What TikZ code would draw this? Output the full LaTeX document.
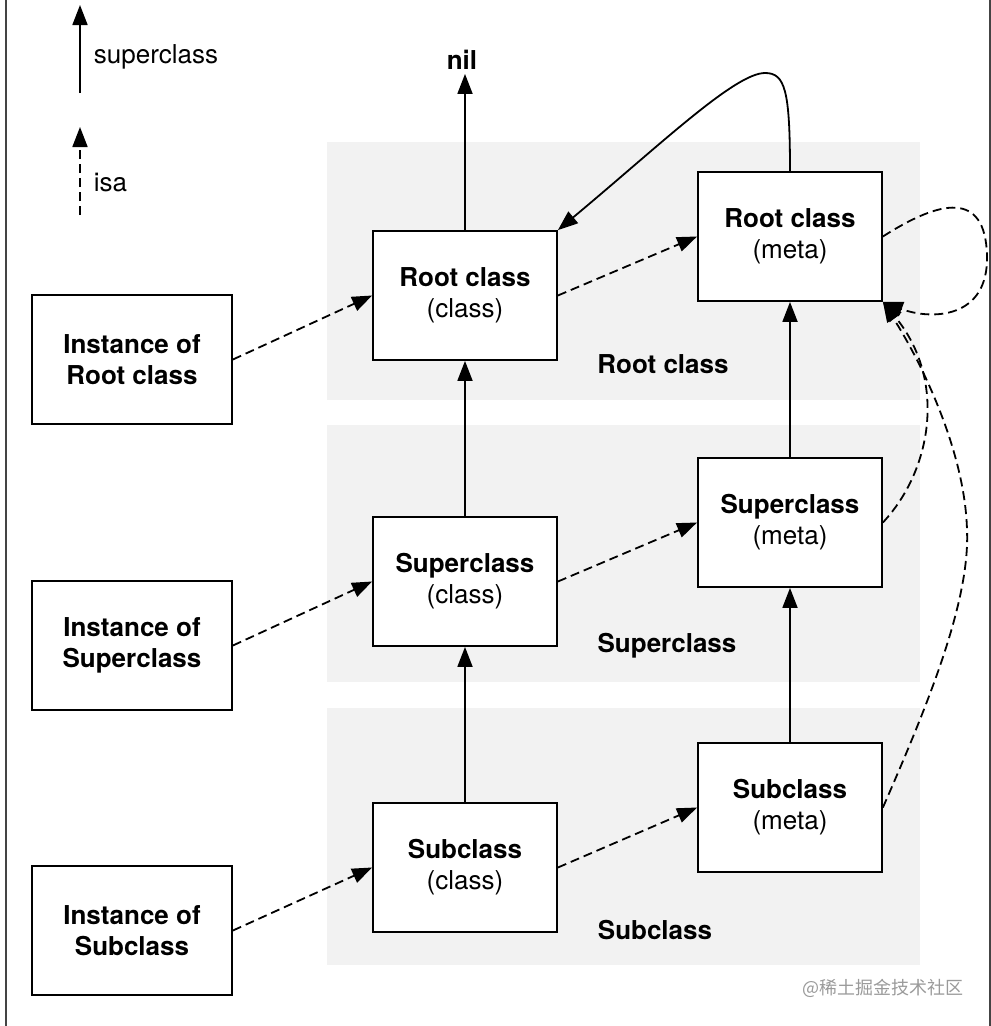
\documentclass[tikz,border=0pt]{standalone}
\usepackage{fontspec}
\setmainfont{TeX Gyre Heros}
\newfontfamily\cjkfont{Noto Sans CJK SC}
\usetikzlibrary{arrows.meta}
\definecolor{bandgray}{HTML}{F2F2F2}
\definecolor{framegray}{HTML}{444444}
\definecolor{markgray}{HTML}{9A9A9A}
\newcommand{\bigtext}{\fontsize{26}{31}\selectfont}

\begin{document}
\begin{tikzpicture}[x=1pt,y=-1pt,>={Triangle[length=20pt,width=15pt]},line width=1.8pt,
    classbox/.style={draw, fill=white, minimum width=184pt, minimum height=129pt, align=center, font=\bigtext},
    instbox/.style={draw, fill=white, minimum width=200pt, minimum height=129pt, align=center, font=\bigtext\bfseries},
    bandlabel/.style={font=\bigtext\bfseries},
    isa/.style={->, dash pattern=on 9pt off 5pt},
    super/.style={->}]
        \useasboundingbox (0,0) rectangle (991,1026);
        % frame lines
        \draw[framegray, line width=2pt] (6,0) -- (6,1026);
        \draw[framegray, line width=2pt] (990,0) -- (990,1026);

        % bands
        \fill[bandgray] (327,142) rectangle (920,400);
        \fill[bandgray] (327,425) rectangle (920,682);
        \fill[bandgray] (327,708) rectangle (920,965);
        \draw (663,364) node[bandlabel] (lroot) {Root class};
        \draw (667,646) node[bandlabel] (lsuper) {Superclass};
        \draw (655,930) node[bandlabel] (lsub) {Subclass};

        % legend
        \coordinate (sup0) at (80,93);
        \coordinate (sup1) at (80,5);
        \draw[super] (sup0) -- (sup1);
        \draw (93,57) node[anchor=west, inner sep=0pt, font=\bigtext] (lsup) {superclass};
        \coordinate (isa0) at (80,215);
        \coordinate (isa1) at (80,127);
        \draw[isa] (isa0) -- (isa1);
        \draw (93,182) node[anchor=west, inner sep=0pt, font=\bigtext] (lisa) {isa};

        % instances
        \draw (132,359.5) node[instbox] (iroot) {Instance of\\Root class};
        \draw (132,645.5) node[instbox] (isuper) {Instance of\\Superclass};
        \draw (132,930.5) node[instbox] (isub) {Instance of\\Subclass};

        % classes
        \draw (465,295.5) node[classbox] (rclass) {\textbf{Root class}\\(class)};
        \draw (465,581.5) node[classbox] (sclass) {\textbf{Superclass}\\(class)};
        \draw (465,867.5) node[classbox] (bclass) {\textbf{Subclass}\\(class)};

        % metaclasses
        \draw (790,236.5) node[classbox] (rmeta) {\textbf{Root class}\\(meta)};
        \draw (790,522.5) node[classbox] (smeta) {\textbf{Superclass}\\(meta)};
        \draw (790,807.5) node[classbox] (bmeta) {\textbf{Subclass}\\(meta)};

        \draw (462,60) node[font=\bigtext\bfseries] (nil) {nil};

        % superclass chain
        \draw[super] (rclass.north) -- (rclass.north |- nil.south);
        \draw[super] (sclass) -- (rclass);
        \draw[super] (bclass) -- (sclass);
        \draw[super] (smeta) -- (rmeta);
        \draw[super] (bmeta) -- (smeta);
        \draw[super] (rmeta.north) .. controls (790,90) and (785,73) .. (765,73)
            .. controls (735,73) and (660,145) .. (rclass.north east);

        % isa
        \draw[isa] (iroot.east) -- (rclass.west);
        \draw[isa] (isuper.east) -- (sclass.west);
        \draw[isa] (isub.east) -- (bclass.west);
        \draw[isa] (rclass.east) -- (rmeta.west);
        \draw[isa] (sclass.east) -- (smeta.west);
        \draw[isa] (bclass.east) -- (bmeta.west);
        \draw[isa] (rmeta.east) .. controls (940,200) and (985,190) .. (987,255)
            .. controls (989,320) and (930,320) .. (rmeta.south east);
        \draw[isa] (smeta.east) .. controls (932,470) and (947,380) .. (rmeta.south east);
        \draw[isa] (bmeta.east) .. controls (930,700) and (970,600) .. (967,530)
            .. controls (965,450) and (920,360) .. (rmeta.south east);

        \draw (883,988) node[markgray, font=\cjkfont\fontsize{18}{20}\selectfont] (mark) {@稀土掘金技术社区};
\end{tikzpicture}
\end{document}
